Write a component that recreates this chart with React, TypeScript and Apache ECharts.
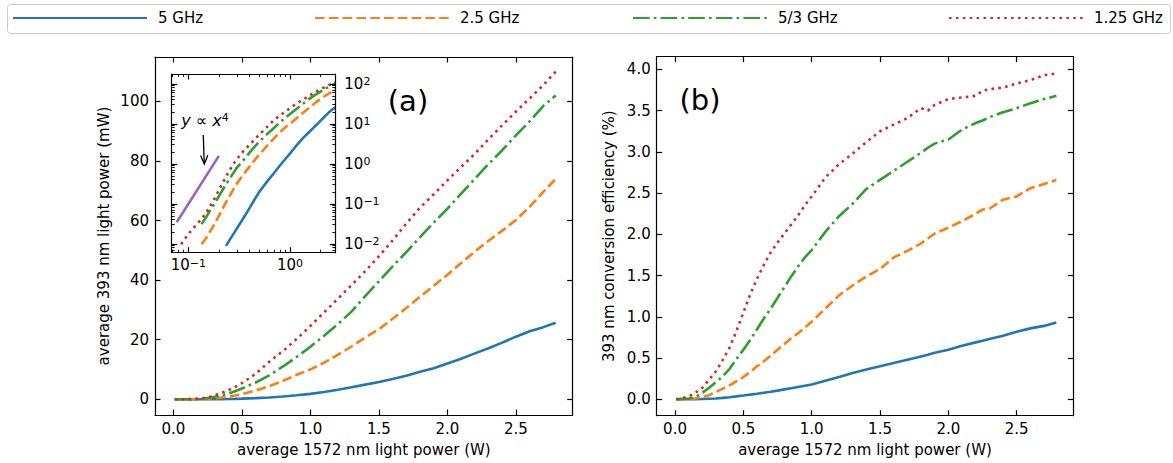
import React, { useEffect, useRef } from 'react';
import * as echarts from 'echarts';

const FONT = 'DejaVu Sans';

const seriesNames = ['5 GHz', '2.5 GHz', '5/3 GHz', '1.25 GHz'];
const seriesColors = ['#1f77b4', '#ff7f0e', '#2ca02c', '#d62728'];
const seriesDashes: any[] = ['solid', [9.6, 4.2], [16.6, 4.2, 2.6, 4.2], [2.6, 4.3]];

// Panel (a): average 393 nm power (mW) vs average 1572 nm power (W)
const powerX = [0.01, 0.05, 0.085, 0.1, 0.12, 0.135, 0.15, 0.175, 0.2, 0.235, 0.275, 0.3, 0.35, 0.4, 0.45, 0.5, 0.6, 0.7, 0.8, 0.9, 1.0, 1.1, 1.2, 1.3, 1.4, 1.5, 1.6, 1.7, 1.8, 1.9, 2.0, 2.1, 2.2, 2.3, 2.4, 2.5, 2.6, 2.7, 2.79];
const power5GHz = [0, 0, 0, 0, 0, 0, 0, 0, 0, 0.0089, 0.017, 0.024, 0.045, 0.078, 0.13, 0.2, 0.37, 0.6, 0.92, 1.32, 1.8, 2.45, 3.2, 4.0, 4.9, 5.8, 6.8, 7.9, 9.2, 10.4, 12.0, 13.6, 15.4, 17.1, 19.0, 21.0, 22.8, 24.2, 25.7];
const power2p5GHz = [0, 0, 0, 0, 0, 0.0098, 0.014, 0.027, 0.05, 0.11, 0.22, 0.32, 0.55, 0.85, 1.25, 1.7, 2.9, 4.4, 6.2, 8.2, 10.0, 12.3, 14.9, 17.7, 20.7, 23.5, 27.0, 30.6, 34.4, 38.1, 41.8, 45.7, 49.6, 53.2, 56.6, 60.2, 64.6, 69.6, 74.0];
const power5over3GHz = [0, 0, 0, 0, 0, 0.031, 0.047, 0.088, 0.155, 0.31, 0.57, 0.8, 1.25, 1.9, 2.7, 3.6, 5.6, 8.0, 11.0, 14.2, 17.6, 21.3, 25.2, 29.4, 34.6, 39.6, 44.6, 49.4, 54.4, 59.3, 64.0, 69.0, 74.0, 79.0, 83.6, 88.6, 93.3, 98.5, 102.0];
const power1p25GHz = [0, 0, 0.0098, 0.0175, 0.03, 0.042, 0.06, 0.115, 0.22, 0.48, 0.95, 1.3, 2.1, 3.0, 4.1, 5.4, 8.5, 12.6, 16.2, 20.2, 24.6, 29.2, 33.7, 38.3, 43.0, 48.0, 53.3, 59.0, 64.3, 68.8, 73.5, 78.0, 82.4, 87.3, 92.0, 96.6, 101.0, 105.5, 110.0];

// Panel (b): 393 nm conversion efficiency (%)
const effX = [0.01, 0.05, 0.1, 0.15, 0.2, 0.25, 0.3, 0.35, 0.4, 0.45, 0.5, 0.55, 0.6, 0.65, 0.7, 0.75, 0.8, 0.85, 0.9, 0.95, 1.0, 1.1, 1.2, 1.3, 1.4, 1.5, 1.6, 1.7, 1.8, 1.85, 1.9, 2.0, 2.1, 2.2, 2.25, 2.3, 2.4, 2.5, 2.6, 2.7, 2.79];
const eff5GHz = [0, 0, 0, 0.002, 0.004, 0.007, 0.01, 0.017, 0.025, 0.035, 0.045, 0.057, 0.068, 0.08, 0.092, 0.105, 0.12, 0.135, 0.15, 0.165, 0.18, 0.225, 0.27, 0.32, 0.36, 0.40, 0.44, 0.48, 0.52, 0.54, 0.565, 0.60, 0.65, 0.69, 0.71, 0.73, 0.77, 0.82, 0.86, 0.89, 0.93];
const eff2p5GHz = [0, 0, 0.005, 0.01, 0.025, 0.05, 0.09, 0.13, 0.17, 0.22, 0.27, 0.33, 0.40, 0.46, 0.53, 0.60, 0.67, 0.74, 0.80, 0.87, 0.94, 1.10, 1.26, 1.38, 1.49, 1.58, 1.72, 1.80, 1.89, 1.95, 2.01, 2.08, 2.16, 2.25, 2.30, 2.31, 2.42, 2.46, 2.56, 2.61, 2.66];
const eff5over3GHz = [0, 0.005, 0.01, 0.025, 0.08, 0.14, 0.21, 0.28, 0.37, 0.49, 0.60, 0.72, 0.85, 0.98, 1.10, 1.23, 1.36, 1.49, 1.61, 1.72, 1.81, 2.03, 2.22, 2.37, 2.55, 2.66, 2.77, 2.88, 2.99, 3.05, 3.10, 3.15, 3.27, 3.35, 3.38, 3.42, 3.48, 3.53, 3.59, 3.64, 3.68];
const eff1p25GHz = [0, 0.01, 0.035, 0.08, 0.14, 0.24, 0.34, 0.48, 0.63, 0.83, 1.05, 1.27, 1.46, 1.63, 1.78, 1.90, 2.01, 2.12, 2.23, 2.35, 2.46, 2.69, 2.85, 2.98, 3.12, 3.25, 3.33, 3.41, 3.53, 3.50, 3.57, 3.64, 3.66, 3.68, 3.74, 3.76, 3.78, 3.83, 3.87, 3.93, 3.95];

// y ∝ x^4 guide line in the inset
const guideX = [0.077, 0.2];
const guideY = [0.0347, 1.58];

// Tick values
const linearXTicks = [0, 0.5, 1, 1.5, 2, 2.5];
const powerYTicks = [0, 20, 40, 60, 80, 100];
const effYTicks = [0, 0.5, 1, 1.5, 2, 2.5, 3, 3.5, 4];
const insetXTicks = [0.1, 1];
const insetYTicks = [0.01, 0.1, 1, 10, 100];
const insetXMinor = [0.07, 0.08, 0.09, 0.2, 0.3, 0.4, 0.5, 0.6, 0.7, 0.8, 0.9, 2];
const insetYMinor = [0.006, 0.007, 0.008, 0.009, 0.02, 0.03, 0.04, 0.05, 0.06, 0.07, 0.08, 0.09, 0.2, 0.3, 0.4, 0.5, 0.6, 0.7, 0.8, 0.9, 2, 3, 4, 5, 6, 7, 8, 9, 20, 30, 40, 50, 60, 70, 80, 90];

const powerSeries = [power5GHz, power2p5GHz, power5over3GHz, power1p25GHz];
const effSeries = [eff5GHz, eff2p5GHz, eff5over3GHz, eff1p25GHz];

const powLabel = (v: number) => {
  const e = Math.round(Math.log10(v));
  return '10{s|' + String(e).replace('-', '−') + '}';
};
const supRich = { s: { fontFamily: 'DejaVu Sans', fontSize: 11, verticalAlign: 'top', lineHeight: 11, color: '#000' } };

const LINE = { color: '#000', width: 1.2 };
const labelStyle = { fontFamily: FONT, fontSize: 15, color: '#000' };

function axis(gridIndex: number, position: string, type: string, min: number, max: number, ticks: number[], opts: any = {}) {
  return {
    gridIndex,
    type,
    position,
    min,
    max,
    ...(type === 'log' ? { logBase: 10 } : {}),
    axisLine: { show: opts.noLine ? false : true, onZero: false, lineStyle: LINE },
    axisTick: { show: true, inside: true, length: opts.tickLen ?? 5.5, customValues: ticks, lineStyle: { color: '#000', width: opts.tickWidth ?? 1.2 } },
    axisLabel: opts.label
      ? { show: true, customValues: ticks, margin: opts.margin ?? 6, formatter: opts.formatter, rich: opts.rich, ...labelStyle }
      : { show: false },
    splitLine: { show: false },
    minorTick: { show: false },
    name: opts.name,
    nameLocation: 'middle',
    nameGap: opts.nameGap,
    nameTextStyle: labelStyle,
    z: 4,
  };
}

const fmt1 = (v: number) => v.toFixed(1);
const fmt0 = (v: number) => String(Math.round(v));

const XMIN = -0.134;
const XMAX = 2.914;
const IXMIN = 0.0687;
const IXMAX = 2.79;
const IYMIN = 0.006;
const IYMAX = 176;

const xAxes = [
  axis(0, 'bottom', 'value', XMIN, XMAX, linearXTicks, { label: true, formatter: fmt1, name: 'average 1572 nm light power (W)', nameGap: 27 }),
  axis(0, 'top', 'value', XMIN, XMAX, linearXTicks),
  axis(1, 'bottom', 'value', XMIN, XMAX, linearXTicks, { label: true, formatter: fmt1, name: 'average 1572 nm light power (W)', nameGap: 27 }),
  axis(1, 'top', 'value', XMIN, XMAX, linearXTicks),
  axis(2, 'bottom', 'log', IXMIN, IXMAX, insetXTicks, { label: true, formatter: powLabel, rich: supRich, margin: 5 }),
  axis(2, 'top', 'log', IXMIN, IXMAX, insetXTicks),
  axis(2, 'bottom', 'log', IXMIN, IXMAX, insetXMinor, { noLine: true, tickLen: 3, tickWidth: 0.9 }),
  axis(2, 'top', 'log', IXMIN, IXMAX, insetXMinor, { noLine: true, tickLen: 3, tickWidth: 0.9 }),
];

const yAxes = [
  axis(0, 'left', 'value', -5.3, 114.9, powerYTicks, { label: true, formatter: fmt0, name: 'average 393 nm light power (mW)', nameGap: 44 }),
  axis(0, 'right', 'value', -5.3, 114.9, powerYTicks),
  axis(1, 'left', 'value', -0.199, 4.154, effYTicks, { label: true, formatter: fmt1, name: '393 nm conversion efficiency (%)', nameGap: 40 }),
  axis(1, 'right', 'value', -0.199, 4.154, effYTicks),
  axis(2, 'right', 'log', IYMIN, IYMAX, insetYTicks, { label: true, formatter: powLabel, rich: supRich, margin: 9 }),
  axis(2, 'left', 'log', IYMIN, IYMAX, insetYTicks),
  axis(2, 'right', 'log', IYMIN, IYMAX, insetYMinor, { noLine: true, tickLen: 3, tickWidth: 0.9 }),
  axis(2, 'left', 'log', IYMIN, IYMAX, insetYMinor, { noLine: true, tickLen: 3, tickWidth: 0.9 }),
];

function lineSeries(name: string, i: number, xs: number[], ys: number[], axisIdx: number, logOnly = false) {
  const data: number[][] = [];
  xs.forEach((x, k) => {
    const y = ys[k];
    if (logOnly && !(y >= 0.008 && x >= IXMIN)) return;
    data.push([x, y]);
  });
  return {
    type: 'line',
    name,
    xAxisIndex: axisIdx,
    yAxisIndex: axisIdx,
    data,
    showSymbol: false,
    symbol: 'none',
    silent: true,
    color: seriesColors[i],
    lineStyle: { color: seriesColors[i], width: 2.6, type: seriesDashes[i], cap: 'butt' },
    z: 3,
  };
}

const series: any[] = [];
seriesNames.forEach((name, i) => {
  series.push(lineSeries(name, i, powerX, powerSeries[i], 0));
  series.push(lineSeries(name, i, effX, effSeries[i], 2));
  series.push(lineSeries(name, i, powerX, powerSeries[i], 4, true));
});
series.push({
  type: 'line',
  name: 'y ∝ x⁴',
  xAxisIndex: 4,
  yAxisIndex: 4,
  data: guideX.map((x, k) => [x, guideY[k]]),
  showSymbol: false,
  symbol: 'none',
  silent: true,
  color: '#9467bd',
  lineStyle: { color: '#9467bd', width: 2.6 },
  z: 3,
});

const legendLefts = [12, 314, 632, 948];

const option: any = {
  animation: false,
  backgroundColor: '#fff',
  textStyle: { fontFamily: FONT },
  grid: [
    { left: 155, top: 57, width: 417.7, height: 358, containLabel: false },
    { left: 656.7, top: 56.7, width: 416.6, height: 359, containLabel: false },
    { left: 171.7, top: 74, width: 163.6, height: 178.7, containLabel: false },
  ],
  legend: seriesNames.map((name, i) => ({
    data: [name],
    left: legendLefts[i],
    top: 10.5,
    padding: 0,
    itemWidth: 134,
    itemHeight: 14,
    selectedMode: false,
    itemStyle: { opacity: 0 },
    textStyle: { ...labelStyle, padding: [0, 0, 0, 6] },
  })),
  xAxis: xAxes,
  yAxis: yAxes,
  series,
  graphic: [
    { type: 'rect', shape: { x: 7.5, y: 4.5, width: 1163, height: 29, r: 3 }, style: { fill: 'none', stroke: '#cccccc', lineWidth: 1 }, silent: true },
    { type: 'text', x: 408, y: 101, style: { text: '(a)', fontFamily: FONT, fontSize: 29, fill: '#000', align: 'center', verticalAlign: 'middle' }, silent: true },
    { type: 'text', x: 700, y: 100, style: { text: '(b)', fontFamily: FONT, fontSize: 29, fill: '#000', align: 'center', verticalAlign: 'middle' }, silent: true },
    {
      type: 'text', x: 205, y: 120, z: 100,
      style: {
        text: '{i|y} ∝ {i|x}{s|4}', fontFamily: FONT, fontSize: 16, fill: '#000', align: 'center', verticalAlign: 'middle',
        rich: {
          i: { fontFamily: FONT, fontStyle: 'italic', fontSize: 16, fill: '#000' },
          s: { fontFamily: FONT, fontSize: 11, fill: '#000', verticalAlign: 'top', lineHeight: 11 },
        },
      },
      silent: true,
    },
    { type: 'line', z: 100, shape: { x1: 203.3, y1: 135, x2: 204.2, y2: 163 }, style: { stroke: '#000', lineWidth: 1.3 }, silent: true },
    { type: 'polyline', z: 100, shape: { points: [[200.6, 155.5], [204.3, 164], [207.8, 155.3]] }, style: { stroke: '#000', lineWidth: 1.3, fill: 'none' }, silent: true },
  ],
};

export default function App() {
  const ref = useRef<HTMLDivElement>(null);
  useEffect(() => {
    document.body.style.margin = '0';
    const chart = echarts.init(ref.current!, undefined, { renderer: 'svg' });
    chart.setOption(option);
    return () => chart.dispose();
  }, []);
  return <div ref={ref} style={{ width: 1173, height: 463 }} />;
}
